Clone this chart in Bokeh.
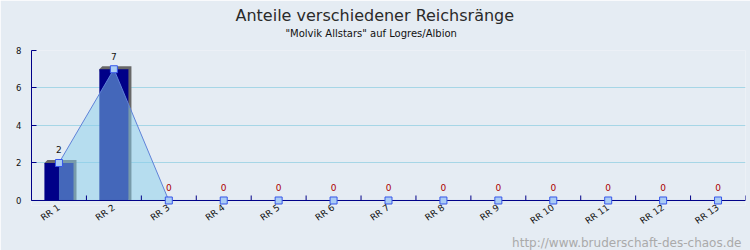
import math
from bokeh.plotting import figure
from bokeh.models import Range1d, FixedTicker, Title, ColumnDataSource
from bokeh.core.properties import value
from bokeh.embed import file_html
from bokeh.resources import INLINE

# ---- data ----
categories = ["RR 1", "RR 2", "RR 3", "RR 4", "RR 5", "RR 6", "RR 7",
              "RR 8", "RR 9", "RR 10", "RR 11", "RR 12", "RR 13"]
counts = [2, 7, 0, 0, 0, 0, 0, 0, 0, 0, 0, 0, 0]
y_ticks = [0, 2, 4, 6, 8]
title_text = "Anteile verschiedener Reichsränge"
subtitle_text = '"Molvik Allstars" auf Logres/Albion'
watermark_text = "http://www.bruderschaft-des-chaos.de"

FONT = "DejaVu Sans"
BG = "#e5ecf3"
NAVY = "#000088"

n = len(categories)
xs = [i + 0.5 for i in range(n)]
px_per_unit_y = 18.75

p = figure(width=750, height=250, output_backend="svg", toolbar_location=None,
           x_range=Range1d(0, n), y_range=Range1d(-0.2667, 8),
           min_border_left=31, min_border_right=5,
           min_border_top=50, min_border_bottom=45)
p.background_fill_color = BG
p.border_fill_color = BG
p.outline_line_color = None

# titles: spacer (closest to frame), subtitle, then main title (outermost)
p.add_layout(Title(text=" ", text_font=FONT, text_font_size="9px",
                   standoff=0), "above")
p.add_layout(Title(text=subtitle_text, align="left", offset=254, text_font=FONT,
                   text_font_size="10px", text_font_style="normal",
                   text_color="#111111", standoff=0), "above")
p.title.text = title_text
p.title.align = "left"
p.title.offset = 204
p.title.text_font = FONT
p.title.text_font_size = "16px"
p.title.text_font_style = "normal"
p.title.text_color = "#2a2a2a"
p.title.standoff = 2
p.add_layout(Title(text=watermark_text, align="right", offset=4, text_font=FONT,
                   text_font_size="12px", text_font_style="normal",
                   text_color="#aaaaaa", standoff=0), "below")

# grid
p.xgrid.grid_line_color = None
p.ygrid.ticker = FixedTicker(ticks=y_ticks)
p.ygrid.grid_line_color = "#a6d6e6"

# x axis: labels only (line and ticks drawn at y=0 below)
xa = p.xaxis[0]
xa.ticker = FixedTicker(ticks=xs)
xa.major_label_overrides = {x: c for x, c in zip(xs, categories)}
xa.major_tick_line_color = None
xa.major_tick_in = 0
xa.major_tick_out = 0
xa.minor_tick_line_color = None
xa.axis_line_color = None
xa.major_label_orientation = math.radians(35)
xa.major_label_text_font = FONT
xa.major_label_text_font_size = "9px"
xa.major_label_text_color = "#111111"
xa.major_label_standoff = 1

# y axis
ya = p.yaxis[0]
ya.bounds = (0, 8)
ya.ticker = FixedTicker(ticks=y_ticks)
ya.major_tick_in = 5
ya.major_tick_out = 0
ya.minor_tick_line_color = None
ya.major_tick_line_color = NAVY
ya.axis_line_color = NAVY
ya.major_label_text_font = FONT
ya.major_label_text_font_size = "8.5px"
ya.major_label_text_color = "#111111"
ya.major_label_standoff = 10

# 3D shadow of bars
bw = 0.53
dx = 3 / 54.92
dy = 3 / px_per_unit_y
sh_x, sh_y = [], []
for x, v in zip(xs, counts):
    if v > 0:
        x0, x1 = x - bw / 2, x + bw / 2
        sh_x.append([x0, x0 + dx, x1 + dx, x1 + dx, x1])
        sh_y.append([v, v + dy, v + dy, 0, 0])
p.patches(sh_x, sh_y, fill_color="#686868", line_color=None)

# bars
src = ColumnDataSource(dict(
    x=xs, top=counts, label=[str(c) for c in counts],
    color=["#111111" if c > 0 else "#aa0000" for c in counts]))
p.vbar(x="x", top="top", width=bw, source=src, fill_color=NAVY, line_color=None)

# area
p.varea(x=xs, y1=[0] * n, y2=counts, fill_color="#87ceeb", fill_alpha=0.5)
p.line(xs, counts, line_color="#5f82d8", line_width=1)

# x axis line at zero and category boundary ticks
bounds_x = list(range(n + 1))
p.segment(x0=[0], y0=[0], x1=[n], y1=[0], line_color=NAVY, line_width=1)
p.segment(x0=bounds_x, y0=[0] * (n + 1), x1=bounds_x,
          y1=[5 / px_per_unit_y] * (n + 1), line_color=NAVY, line_width=1)

# markers
p.scatter(x="x", y="top", source=src, marker="square", size=7,
          fill_color="#aaccf4", line_color="#3656ea", line_width=1)

# value labels
p.text(x="x", y="top", text="label", source=src, text_color="color",
       text_font=value(FONT), text_font_size="9px",
       text_align="center", text_baseline="middle", y_offset=-13)

open("out.html", "w").write(file_html(p, INLINE))
